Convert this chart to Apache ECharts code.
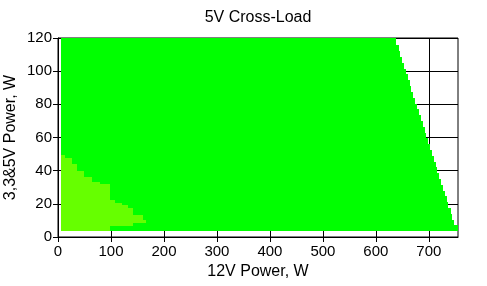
<!DOCTYPE html>
<html><head><meta charset="utf-8">
<script src="https://cdn.jsdelivr.net/npm/echarts@6/dist/echarts.min.js"></script>
<style>html,body{margin:0;padding:0;background:#fff}#c{width:487px;height:286px}</style>
</head><body><div id="c"></div>
<script>
// Tick values
const xTicks = [0, 100, 200, 300, 400, 500, 600, 700];
const yTicks = [0, 20, 40, 60, 80, 100, 120];
const xMax = 755;
const yMax = 120;

// Main (green) region: rows of 3.3&5V load, each with its max 12V load
const greenLeft = 6.4;
const greenRowBottom = [3.5, 7, 10.5, 14, 17.5, 21, 24.5, 28, 31.5, 35, 38.5, 42, 45.5, 49, 52.5, 56, 59.5, 63, 66.5, 70, 73.5, 77, 80.5, 84, 87.5, 91, 94.5, 98, 101.5, 105, 108.5, 112, 115.5];
const greenRowXmax = [755, 748, 744, 741, 737, 734, 730, 727, 723, 720, 716, 713, 709, 706, 702, 699, 695, 692, 688, 685, 681, 678, 674, 671, 667, 664, 660, 657, 653, 650, 646, 643, 638];

// Lighter region: columns of 12V load with low/high 3.3&5V bounds
const limeColEdges = [6.4, 12.6, 25.8, 35, 50, 64, 79, 99, 107, 120, 132, 141, 160, 167];
const limeColTop = [49.5, 47.5, 44, 39.5, 36, 33, 32, 22.5, 20.7, 19, 17.6, 13.4, 10.4];
const limeColBottom = [3.5, 3.5, 3.5, 3.5, 3.5, 3.5, 3.5, 6.4, 6.4, 6.4, 6.4, 8.6, 8.6];

const greenData = greenRowBottom.map((y, i) => [
  greenLeft, greenRowXmax[i], y, i + 1 < greenRowBottom.length ? greenRowBottom[i + 1] : yMax
]);
const limeData = limeColTop.map((t, i) => [limeColEdges[i], limeColEdges[i + 1], limeColBottom[i], t]);

function rectItem(params, api) {
  const p0 = api.coord([api.value(0), api.value(3)]);
  const p1 = api.coord([api.value(1), api.value(2)]);
  const x0 = Math.round(p0[0]), y0 = Math.round(p0[1]);
  const x1 = Math.round(p1[0]), y1 = Math.round(p1[1]);
  return {
    type: 'rect',
    shape: {x: x0, y: y0, width: x1 - x0, height: y1 - y0},
    style: {fill: api.visual('color'), stroke: null}
  };
}

const font = 'Liberation Sans, Arial, sans-serif';
const chart = echarts.init(document.getElementById('c'));
chart.setOption({
  animation: false,
  backgroundColor: '#fff',
  title: {
    text: '5V Cross-Load', left: 258, top: 10, textAlign: 'center', padding: 0,
    textStyle: {fontFamily: font, fontSize: 16, fontWeight: 'normal', color: '#000'}
  },
  grid: {left: 58, right: 29, top: 38, bottom: 49, containLabel: false, outerBoundsMode: 'none',
    show: true, borderColor: '#000', borderWidth: 1, backgroundColor: 'transparent'},
  xAxis: {
    type: 'value', min: 0, max: xMax, interval: 100,
    name: '12V Power, W', nameLocation: 'middle', nameGap: 27, nameMoveOverlap: false,
    nameTextStyle: {fontFamily: font, fontSize: 16, color: '#000'},
    axisLine: {show: true, onZero: false, lineStyle: {color: '#000', width: 1}},
    axisTick: {show: true, length: 5, lineStyle: {color: '#000'}, customValues: xTicks},
    axisLabel: {fontFamily: font, fontSize: 15, color: '#000', margin: 7, customValues: xTicks},
    splitLine: {show: true, lineStyle: {color: '#000', width: 1}}
  },
  yAxis: {
    type: 'value', min: 0, max: yMax, interval: 20,
    name: '3,3&5V Power, W', nameLocation: 'middle', nameGap: 39, nameMoveOverlap: false,
    nameTextStyle: {fontFamily: font, fontSize: 16, color: '#000'},
    axisLine: {show: true, onZero: false, lineStyle: {color: '#000', width: 1}},
    axisTick: {show: true, length: 5, lineStyle: {color: '#000'}},
    axisLabel: {fontFamily: font, fontSize: 15, color: '#000', margin: 6, customValues: yTicks},
    splitLine: {show: true, lineStyle: {color: '#000', width: 1}}
  },
  series: [
    {type: 'custom', renderItem: rectItem, data: greenData, encode: {x: [0, 1], y: [2, 3]}, itemStyle: {color: '#00ff00'}, clip: true, z: 3},
    {type: 'custom', renderItem: rectItem, data: limeData, encode: {x: [0, 1], y: [2, 3]}, itemStyle: {color: '#66ff00'}, clip: true, z: 4}
  ]
});
</script></body></html>
